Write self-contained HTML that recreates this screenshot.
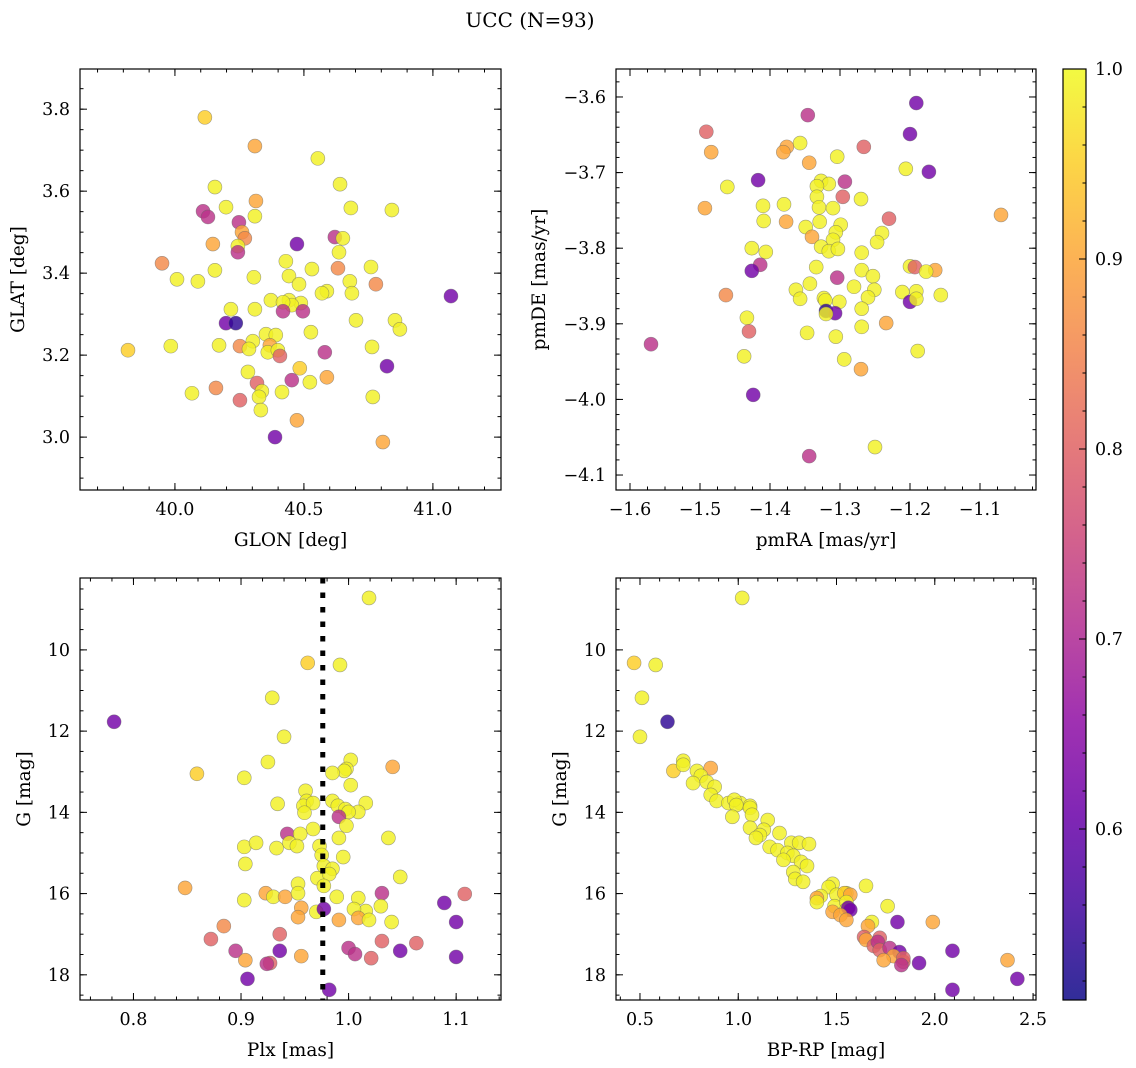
<!DOCTYPE html>
<html><head><meta charset="utf-8"><title>UCC (N=93)</title>
<style>
html,body{margin:0;padding:0;background:#fff;}
svg{display:block;font-family:"DejaVu Serif","Liberation Serif",serif;}
</style></head>
<body>
<svg id="fig" width="1136" height="1068" viewBox="0 0 1136 1068" xmlns="http://www.w3.org/2000/svg">
<rect width="1136" height="1068" fill="#fff"/>
<text x="530" y="27" font-size="20" text-anchor="middle">UCC (N=93)</text>
</svg>
<script>
// probability codes
const Y=0.99, YO=0.95, O=0.9, OP=0.86, P=0.8, M=0.72, U=0.62, N=0.54;

// Panel 1: GLON / GLAT
const glon=[40.116,40.310,40.554,40.155,40.640,40.314,40.198,40.682,40.841,40.109,40.128,40.310,40.248,40.260,40.271,40.620,40.651,40.244,40.473,40.147,40.636,40.244,39.950,40.155,40.531,40.760,40.632,40.008,40.306,40.442,40.678,40.089,40.779,40.430,40.481,40.589,40.570,41.070,40.372,40.488,40.442,40.453,40.419,40.686,40.217,40.310,40.419,40.496,40.853,40.702,40.872,40.527,40.198,40.236,40.353,40.391,40.302,39.984,39.818,40.171,40.252,40.287,40.368,40.360,40.399,40.407,40.581,40.764,40.484,40.283,40.822,40.318,40.337,40.326,40.159,40.453,40.523,40.589,40.415,40.066,40.767,40.333,40.252,40.473,40.388,40.806];
const glat=[3.780,3.710,3.680,3.610,3.617,3.576,3.561,3.559,3.554,3.551,3.537,3.539,3.524,3.500,3.485,3.488,3.485,3.466,3.471,3.471,3.451,3.451,3.424,3.407,3.410,3.415,3.412,3.385,3.390,3.393,3.380,3.380,3.373,3.429,3.373,3.356,3.351,3.344,3.334,3.327,3.334,3.322,3.329,3.351,3.312,3.312,3.307,3.307,3.285,3.285,3.263,3.256,3.278,3.278,3.251,3.249,3.234,3.222,3.212,3.224,3.222,3.215,3.224,3.207,3.212,3.198,3.207,3.220,3.168,3.159,3.173,3.132,3.112,3.098,3.120,3.139,3.134,3.146,3.110,3.107,3.098,3.066,3.090,3.041,3.000,2.988];
const prob1=[YO,O,Y,Y,Y,O,Y,Y,Y,M,M,Y,M,O,OP,M,Y,Y,U,O,Y,M,OP,Y,Y,Y,OP,Y,Y,Y,Y,Y,OP,Y,Y,Y,Y,U,Y,Y,Y,Y,Y,Y,Y,Y,M,M,Y,Y,Y,Y,U,N,Y,Y,Y,Y,YO,Y,OP,Y,O,Y,Y,P,M,Y,YO,Y,U,P,Y,Y,OP,M,Y,O,Y,Y,Y,Y,P,O,U,O];

// Panel 2: pmRA / pmDE
const pmra=[-1.346,-1.191,-1.491,-1.200,-1.484,-1.357,-1.376,-1.381,-1.266,-1.304,-1.344,-1.206,-1.173,-1.417,-1.327,-1.316,-1.293,-1.333,-1.461,-1.333,-1.296,-1.270,-1.493,-1.410,-1.380,-1.330,-1.310,-1.070,-1.230,-1.409,-1.329,-1.299,-1.377,-1.349,-1.240,-1.306,-1.340,-1.310,-1.247,-1.426,-1.327,-1.406,-1.316,-1.303,-1.269,-1.200,-1.193,-1.164,-1.177,-1.414,-1.426,-1.334,-1.269,-1.253,-1.304,-1.343,-1.363,-1.251,-1.280,-1.211,-1.191,-1.156,-1.463,-1.357,-1.323,-1.321,-1.260,-1.301,-1.200,-1.191,-1.320,-1.307,-1.320,-1.269,-1.433,-1.234,-1.269,-1.347,-1.430,-1.306,-1.189,-1.437,-1.294,-1.270,-1.570,-1.424,-1.344,-1.250];
const pmde=[-3.624,-3.608,-3.646,-3.649,-3.673,-3.661,-3.666,-3.673,-3.666,-3.679,-3.687,-3.695,-3.699,-3.710,-3.711,-3.715,-3.712,-3.718,-3.719,-3.732,-3.732,-3.735,-3.747,-3.744,-3.742,-3.746,-3.747,-3.756,-3.761,-3.764,-3.765,-3.769,-3.765,-3.772,-3.780,-3.779,-3.785,-3.789,-3.792,-3.800,-3.798,-3.805,-3.804,-3.801,-3.806,-3.824,-3.825,-3.829,-3.831,-3.822,-3.830,-3.825,-3.829,-3.837,-3.839,-3.847,-3.855,-3.855,-3.851,-3.858,-3.857,-3.862,-3.862,-3.867,-3.866,-3.869,-3.865,-3.871,-3.871,-3.867,-3.883,-3.886,-3.887,-3.880,-3.892,-3.899,-3.904,-3.912,-3.910,-3.917,-3.936,-3.943,-3.947,-3.960,-3.927,-3.994,-4.075,-4.063];
const prob2=[M,U,P,U,O,Y,O,O,P,Y,O,Y,U,U,Y,Y,M,Y,Y,Y,P,Y,O,Y,Y,Y,Y,O,P,Y,Y,Y,O,Y,Y,Y,O,Y,Y,Y,Y,Y,Y,Y,Y,Y,P,O,Y,M,U,Y,Y,Y,M,Y,Y,Y,Y,Y,Y,Y,OP,Y,Y,Y,Y,Y,U,Y,N,U,Y,Y,Y,O,Y,Y,P,Y,Y,Y,Y,O,M,U,M,Y];

// Panel 3: Plx / G
const plx=[1.019,0.962,0.992,0.929,0.782,0.940,1.002,0.925,0.998,1.041,0.859,0.996,0.985,0.903,1.002,0.960,0.961,0.985,0.934,0.958,0.967,0.990,1.016,0.997,1.009,1.000,0.991,0.959,0.998,0.967,0.943,0.955,0.991,1.037,0.945,0.952,0.973,0.903,0.914,0.933,0.975,0.995,0.977,0.904,0.985,1.048,0.971,0.982,0.953,0.977,0.848,0.903,0.923,0.930,0.941,0.953,1.031,0.989,1.009,1.108,0.970,0.977,0.956,1.016,1.005,1.030,1.089,0.991,0.953,1.009,1.019,1.040,1.100,0.884,0.936,0.872,1.031,1.063,1.000,1.048,0.895,0.936,1.006,0.956,0.904,1.021,1.100,0.927,0.924,0.906,0.982];
const gmag3=[8.72,10.32,10.37,11.18,11.77,12.14,12.71,12.76,12.93,12.88,13.05,12.98,13.03,13.15,13.33,13.47,13.72,13.72,13.79,13.84,13.77,13.84,13.77,13.92,13.99,13.99,14.11,14.01,14.33,14.41,14.53,14.53,14.63,14.63,14.75,14.83,14.83,14.85,14.75,14.88,15.05,15.10,15.32,15.27,15.39,15.59,15.62,15.52,15.76,15.81,15.86,16.16,15.99,16.08,16.08,15.99,15.99,16.08,16.11,16.01,16.45,16.38,16.35,16.43,16.38,16.31,16.23,16.65,16.58,16.60,16.65,16.70,16.70,16.80,17.00,17.12,17.17,17.22,17.34,17.41,17.41,17.41,17.49,17.54,17.64,17.59,17.56,17.71,17.73,18.10,18.37];
const prob3=[Y,YO,Y,Y,U,Y,Y,Y,Y,O,YO,Y,Y,Y,Y,Y,Y,Y,Y,Y,Y,Y,Y,Y,Y,Y,M,Y,Y,Y,M,Y,Y,Y,Y,Y,Y,Y,Y,Y,Y,Y,Y,Y,Y,Y,Y,Y,Y,Y,O,Y,O,Y,O,Y,M,Y,Y,P,Y,U,O,Y,Y,Y,U,O,O,O,Y,Y,U,OP,P,P,P,P,M,U,M,U,M,O,O,P,U,P,M,U,U];

// Panel 4: BP-RP / G
const bprp=[1.02,0.47,0.58,0.51,0.64,0.50,0.67,0.72,0.72,0.79,0.86,0.81,0.77,0.84,0.88,0.86,0.89,0.95,1.01,0.98,1.06,0.99,1.06,1.07,1.06,1.15,1.13,1.11,1.21,1.09,0.97,1.27,1.31,1.36,1.16,1.20,1.25,1.28,1.23,1.32,1.35,1.28,1.29,1.33,1.48,1.65,1.46,1.55,1.50,1.42,1.54,1.40,1.57,1.40,1.49,1.55,1.48,1.55,1.56,1.57,1.76,1.52,1.55,1.68,1.66,1.99,1.81,1.64,1.65,1.69,1.72,1.71,1.72,1.77,1.82,2.09,1.79,1.74,1.84,1.84,1.83,1.92,2.37,2.42,2.09];
const gmag4=[8.72,10.32,10.37,11.18,11.77,12.14,12.98,12.73,12.83,12.98,12.91,13.10,13.28,13.25,13.37,13.57,13.72,13.77,13.77,13.69,13.84,13.82,13.89,14.06,14.38,14.19,14.43,14.56,14.51,14.63,14.11,14.75,14.75,14.78,14.85,14.93,15.00,15.07,15.17,15.22,15.32,15.47,15.64,15.71,15.76,15.81,15.84,15.99,16.03,16.06,15.99,16.11,16.03,16.21,16.31,16.21,16.45,16.40,16.35,16.40,16.31,16.53,16.65,16.70,16.80,16.70,16.70,17.07,17.14,17.29,17.09,17.19,17.39,17.34,17.44,17.41,17.54,17.64,17.68,17.59,17.76,17.71,17.64,18.10,18.37];
const prob4=[Y,YO,Y,Y,N,Y,YO,Y,Y,Y,O,Y,Y,Y,Y,Y,Y,Y,Y,Y,Y,Y,Y,Y,Y,Y,Y,Y,Y,Y,Y,Y,Y,Y,Y,Y,Y,Y,Y,Y,Y,Y,Y,Y,Y,Y,Y,Y,Y,Y,YO,O,O,Y,Y,Y,O,Y,U,U,Y,O,O,Y,O,O,U,P,O,P,P,M,P,M,U,U,O,O,P,P,M,U,O,U,U];

const plxLine=0.976;
const cbTicks=[0.6,0.7,0.8,0.9,1.0];

const NS="http://www.w3.org/2000/svg";
const svg=document.getElementById('fig');
function mk(tag,attrs,parent){const e=document.createElementNS(NS,tag);for(const k in attrs)e.setAttribute(k,attrs[k]);(parent||svg).appendChild(e);return e;}

const stops=["#0d0887","#41049d","#6a00a8","#8f0da4","#b12a90","#cc4778","#e16462","#f2844b","#fca636","#fcce25","#f0f921"];
const CMIN=0.51,CMAX=1.0;
function hex2(h){return [1,3,5].map(i=>parseInt(h.substr(i,2),16));}
function plasma(t){t=Math.max(0,Math.min(1,t));const f=t*10,i=Math.min(9,Math.floor(f)),r=f-i;const a=hex2(stops[i]),b=hex2(stops[i+1]);return 'rgb('+a.map((v,k)=>Math.round(v+(b[k]-v)*r)).join(',')+')';}
function cmap(p){return plasma((p-CMIN)/(CMAX-CMIN));}

function fmt(v,d){const s=Math.abs(v).toFixed(d);return (v< -1e-9?'\u2212':'')+s;}

const TICKFS=17.5, LABFS=18.5;

function panel(cfg){
  const {x0,y0,x1,y1,xmin,xmax,ymin,ymax,invertY,xs,ys,ps,xMaj,xMin,yMaj,yMin,xd,yd,xlabel,ylabel,name}=cfg;
  const sx=v=>x0+(v-xmin)/(xmax-xmin)*(x1-x0);
  const sy=v=>invertY? y0+(v-ymin)/(ymax-ymin)*(y1-y0) : y1-(v-ymin)/(ymax-ymin)*(y1-y0);
  const g=mk('g',{});
  
  
  const cid='clip-'+name;
  const cp=mk('clipPath',{id:cid},g);mk('rect',{x:x0,y:y0,width:x1-x0,height:y1-y0},cp);
  const pts=mk('g',{'clip-path':'url(#'+cid+')'},g);
  
  
  for(let i=0;i<xs.length;i++){
    const c=mk('circle',{cx:sx(xs[i]),cy:sy(ys[i]),r:7,fill:cmap(ps[i]),'fill-opacity':0.82,stroke:'#666','stroke-opacity':0.6,'stroke-width':0.6},pts);
    
    
  }
  if(cfg.vline!==undefined){
    const l=mk('line',{x1:sx(cfg.vline),x2:sx(cfg.vline),y1:y0,y2:y1,stroke:'#000','stroke-width':5,'stroke-dasharray':'5.5 9'},pts);
    
    
  }
  const ax=mk('g',{stroke:'#000','stroke-width':1},g);
  
  
  const eps=1e-9;
  for(let v=Math.ceil(xmin/xMin-eps)*xMin;v<=xmax+eps;v+=xMin){const X=sx(v);mk('line',{x1:X,x2:X,y1:y1,y2:y1-3.5},ax);mk('line',{x1:X,x2:X,y1:y0,y2:y0+3.5},ax);}
  for(let v=Math.ceil(ymin/yMin-eps)*yMin;v<=ymax+eps;v+=yMin){const Y_=sy(v);mk('line',{x1:x0,x2:x0+3.5,y1:Y_,y2:Y_},ax);mk('line',{x1:x1,x2:x1-3.5,y1:Y_,y2:Y_},ax);}
  xMaj.forEach(v=>{const X=sx(v);mk('line',{x1:X,x2:X,y1:y1,y2:y1-7},ax);mk('line',{x1:X,x2:X,y1:y0,y2:y0+7},ax);
    const t=mk('text',{x:X,y:y1+25,'font-size':TICKFS,'text-anchor':'middle',stroke:'none'},g);t.textContent=fmt(v,xd);
    
    });
  yMaj.forEach(v=>{const Y_=sy(v);mk('line',{x1:x0,x2:x0+7,y1:Y_,y2:Y_},ax);mk('line',{x1:x1,x2:x1-7,y1:Y_,y2:Y_},ax);
    const t=mk('text',{x:x0-10,y:Y_+6,'font-size':TICKFS,'text-anchor':'end',stroke:'none'},g);t.textContent=fmt(v,yd);
    
    });
  mk('rect',{x:x0,y:y0,width:x1-x0,height:y1-y0,fill:'none',stroke:'#000','stroke-width':1.2},ax);
  const xl=mk('text',{x:(x0+x1)/2,y:y1+56,'font-size':LABFS,'text-anchor':'middle'},g);xl.textContent=xlabel;
  
  
  const yx=cfg.ylx;
  const yl=mk('text',{x:yx,y:(y0+y1)/2,'font-size':LABFS,'text-anchor':'middle',transform:'rotate(-90 '+yx+' '+((y0+y1)/2)+')'},g);yl.textContent=ylabel;
  
  
}

panel({name:'glon-glat',x0:80,y0:69,x1:501,y1:490,xmin:39.632,xmax:41.264,ymin:2.871,ymax:3.898,xs:glon,ys:glat,ps:prob1,
  xMaj:[40.0,40.5,41.0],xMin:0.1,yMaj:[3.0,3.2,3.4,3.6,3.8],yMin:0.05,xd:1,yd:1,xlabel:'GLON [deg]',ylabel:'GLAT [deg]',ylx:24});
panel({name:'pm',x0:616,y0:69,x1:1036,y1:490,xmin:-1.62,xmax:-1.02,ymin:-4.1198,ymax:-3.563,xs:pmra,ys:pmde,ps:prob2,
  xMaj:[-1.6,-1.5,-1.4,-1.3,-1.2,-1.1],xMin:0.025,yMaj:[-4.1,-4.0,-3.9,-3.8,-3.7,-3.6],yMin:0.02,xd:1,yd:1,xlabel:'pmRA [mas/yr]',ylabel:'pmDE [mas/yr]',ylx:545});
panel({name:'plx-g',x0:80,y0:578,x1:501,y1:1000,xmin:0.7503,xmax:1.1417,ymin:8.23,ymax:18.62,invertY:true,xs:plx,ys:gmag3,ps:prob3,vline:plxLine,
  xMaj:[0.8,0.9,1.0,1.1],xMin:0.02,yMaj:[10,12,14,16,18],yMin:0.5,xd:1,yd:0,xlabel:'Plx [mas]',ylabel:'G [mag]',ylx:30});
panel({name:'cmd',x0:616,y0:578,x1:1036,y1:1000,xmin:0.378,xmax:2.515,ymin:8.23,ymax:18.62,invertY:true,xs:bprp,ys:gmag4,ps:prob4,
  xMaj:[0.5,1.0,1.5,2.0,2.5],xMin:0.1,yMaj:[10,12,14,16,18],yMin:0.5,xd:1,yd:0,xlabel:'BP-RP [mag]',ylabel:'G [mag]',ylx:566});

// colorbar
(function(){
  const cx0=1063,cx1=1086,cy0=69,cy1=1000;
  const g=mk('g',{});
  
  
  const defs=mk('defs',{},g);
  const lg=mk('linearGradient',{id:'cbg',x1:0,y1:1,x2:0,y2:0},defs);
  for(let i=0;i<=20;i++){mk('stop',{offset:(i/20),'stop-color':plasma(i/20),'stop-opacity':0.85},lg);}
  mk('rect',{x:cx0,y:cy0,width:cx1-cx0,height:cy1-cy0,fill:'url(#cbg)'},g);
  const sy=v=>cy1-(v-CMIN)/(CMAX-CMIN)*(cy1-cy0);
  for(let v=0.52;v<=1.0001;v+=0.02){const Y_=sy(v);mk('line',{x1:cx1,x2:cx1-3.5,y1:Y_,y2:Y_,stroke:'#000'},g);}
  cbTicks.forEach(v=>{const Y_=sy(v);mk('line',{x1:cx1,x2:cx1-7,y1:Y_,y2:Y_,stroke:'#000'},g);
    const t=mk('text',{x:cx1+9,y:Y_+6,'font-size':TICKFS},g);t.textContent=v.toFixed(1);
    
    });
  mk('rect',{x:cx0,y:cy0,width:cx1-cx0,height:cy1-cy0,fill:'none',stroke:'#000','stroke-width':1.2},g);
})();
</script>
</body></html>
